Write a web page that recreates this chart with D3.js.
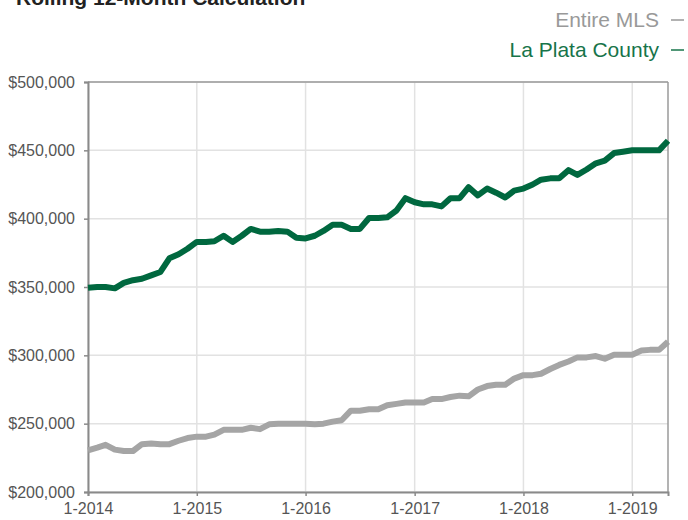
<!DOCTYPE html>
<html><head><meta charset="utf-8">
<script src="https://cdn.jsdelivr.net/npm/d3@7"></script>
<style>
html,body{margin:0;padding:0;background:#fff;}
svg{display:block;font-family:"Liberation Sans",Arial,Helvetica,sans-serif;}
</style></head>
<body>
<svg id="chart" width="688" height="520"></svg>
<script>
// ---- data ----
const startYear = 2014, startMonth = 0; // Jan 2014, monthly through May 2019
const laPlata = [349.5,350,350,349,353,355,356,358.5,361,371,374,378,
  383,383,383.5,387.5,383,387.5,392.5,390.5,390.5,391,390.5,386,
  385.5,387.5,391,395.5,395.5,392.5,392.5,400.5,400.5,401,406,415,
  412,410.5,410.5,409,415,415,423,417,422,419,415.5,420.5,
  422,425,428.5,429.5,429.5,435.5,432,436,440.5,442.5,448,449,
  450,450,450,450,457].map(v=>v*1000);
const entireMLS = [230.5,232.5,234.5,231,230,230,235,235.5,235,235,237.5,239.5,
  240.5,240.5,242,245.5,245.5,245.5,247,246,249.5,250,250,250,
  250,249.5,250,251.5,252.5,259.5,259.5,260.5,260.5,263.5,264.5,265.5,
  265.5,265.5,268,268,269.5,270.5,270,275,277.5,278.5,278.5,283,
  285.5,285.5,286.5,290,293,295.5,298.5,298.5,299.5,297.5,300.5,300.5,
  300.5,303.5,304,304,310].map(v=>v*1000);
const yTicks = [200000,250000,300000,350000,400000,450000,500000];
const xTickLabels = ["1-2014","1-2015","1-2016","1-2017","1-2018","1-2019"];
const seriesNames = ["Entire MLS","La Plata County"];
const titleText = "Rolling 12-Month Calculation";

// ---- layout ----
const svg = d3.select("#chart");
const L=88, R=668, T=82, B=492;
const dates = laPlata.map((_,i)=>new Date(startYear, startMonth+i, 1));
const x = d3.scaleTime().domain([dates[0], dates[dates.length-1]]).range([L,R]);
const y = d3.scaleLinear().domain([200000,500000]).range([B,T]);
const xTickDates = xTickLabels.map(s=>{const [m,yr]=s.split("-");return new Date(+yr,+m-1,1);});

const green="#00683f", gray="#a5a5a5";

// title (cut off at top, as in the reference)
svg.append("text").attr("x",16).attr("y",5).attr("font-size",21).attr("font-weight","bold")
  .attr("fill","#222").text(titleText);

// grid
const g = svg.append("g");
g.selectAll(".hg").data(yTicks).join("line")
  .attr("x1",L).attr("x2",R).attr("y1",d=>y(d)).attr("y2",d=>y(d))
  .attr("stroke","#e2e2e2").attr("stroke-width",1.5);
g.selectAll(".vg").data(xTickDates).join("line")
  .attr("x1",d=>x(d)).attr("x2",d=>x(d)).attr("y1",T).attr("y2",B)
  .attr("stroke","#e2e2e2").attr("stroke-width",1.5);

// box border top/right
svg.append("line").attr("x1",L).attr("x2",R).attr("y1",T).attr("y2",T).attr("stroke","#9a9a9a").attr("stroke-width",1.5);
svg.append("line").attr("x1",R).attr("x2",R).attr("y1",T).attr("y2",B).attr("stroke","#9a9a9a").attr("stroke-width",1.5);

// axes
const yAxis = d3.axisLeft(y).tickValues(yTicks).tickSize(4).tickPadding(9)
  .tickFormat(d=>"$"+d3.format(",")(d));
const ya = svg.append("g").attr("transform",`translate(${L},0)`).call(yAxis);
ya.select(".domain").attr("stroke","#8a8a8a").attr("stroke-width",2);
ya.selectAll(".tick line").attr("stroke","#8a8a8a").attr("stroke-width",1.5);
ya.selectAll("text").attr("font-size",16).attr("fill","#555").attr("font-family","Liberation Sans, Arial, sans-serif");

const xAxis = d3.axisBottom(x).tickValues(xTickDates).tickSize(4).tickPadding(7)
  .tickFormat((d,i)=>xTickLabels[i]);
const xa = svg.append("g").attr("transform",`translate(0,${B})`).call(xAxis);
xa.select(".domain").attr("stroke","#8a8a8a").attr("stroke-width",2);
xa.selectAll(".tick line").attr("stroke","#8a8a8a").attr("stroke-width",1.5);
xa.selectAll("text").attr("font-size",16).attr("fill","#555").attr("font-family","Liberation Sans, Arial, sans-serif");

// lines
const line = d3.line().x((d,i)=>x(dates[i])).y(d=>y(d));
svg.append("path").datum(entireMLS).attr("d",line).attr("fill","none")
  .attr("stroke",gray).attr("stroke-width",6).attr("stroke-linejoin","round");
svg.append("path").datum(laPlata).attr("d",line).attr("fill","none")
  .attr("stroke",green).attr("stroke-width",6).attr("stroke-linejoin","round");

// legend
const legend = [{name:seriesNames[0], color:"#999", y:27},{name:seriesNames[1], color:"#17744a", y:57}];
legend.forEach(l=>{
  svg.append("text").attr("x",659).attr("y",l.y).attr("text-anchor","end")
    .attr("font-size",21).attr("fill",l.color).text(l.name);
  svg.append("line").attr("x1",671).attr("x2",684).attr("y1",l.y-7).attr("y2",l.y-7)
    .attr("stroke",l.color).attr("stroke-width",1.5);
});
</script>
</body></html>
